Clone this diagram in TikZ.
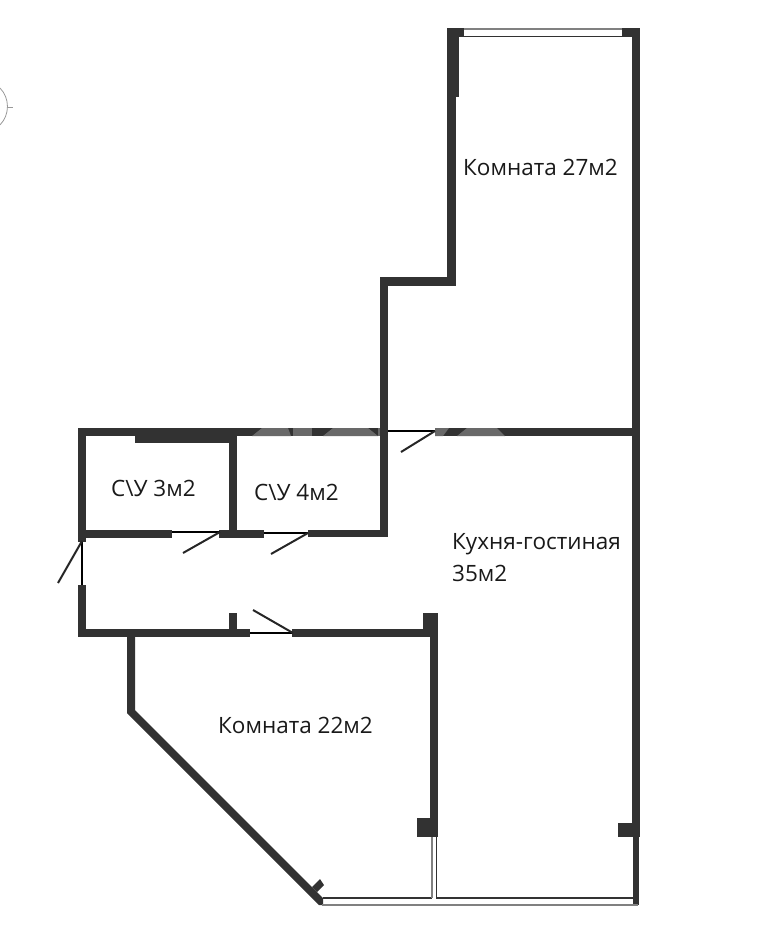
\documentclass[tikz,border=0pt]{standalone}
\usepackage{fontspec}
\setmainfont{Open Sans}
\definecolor{walldark}{RGB}{50,50,50}
\definecolor{wallgrey}{RGB}{105,105,105}
\tikzset{
  wall/.style={fill=walldark, draw=none},
  fadedwall/.style={fill=wallgrey, draw=none},
  glass/.style={draw=walldark, line width=1.4pt},
  glasspale/.style={draw=gray, line width=1.4pt},
  doorline/.style={draw=black, line width=1.6pt},
  leaf/.style={draw=black!85, line width=2pt},
  roomlabel/.style={font=\fontsize{22.5}{27}\selectfont, text=black!90, inner sep=0pt, anchor=base west}
}
\begin{document}
\begin{tikzpicture}[x=1pt,y=-1pt]
\useasboundingbox (0,0) rectangle (757,927);

% straight walls, left/top/right/bottom
\foreach \xa/\ya/\xb/\yb in {
  78/428/380/436, 135/436/232/443, 78/428/86/542, 229/436/237/530,
  78/530/172/538, 219/530/264/538, 308/530/388/537,
  78/585/86/637, 78/629/250/637, 229/613/237/629, 292/629/438/637,
  423/613/438/629, 430/637/438/837, 417/818/430/837,
  380/277/388/530, 380/277/456/286, 447/28/456/286, 447/28/459/97,
  447/28/464/37, 622/28/640/37, 632/37/640/828, 435/428/632/436, 380/428/388/436,
  618/823/640/837, 633/837/639/905}
  \fill[wall] (\xa,\ya) rectangle (\xb,\yb);

% washed out parts of the middle wall
\fill[fadedwall] (252,436) -- (262,428) -- (288,428) -- (291,436) -- cycle;
\fill[fadedwall] (293,428) rectangle (312,436);
\fill[fadedwall] (323,436) -- (333,428) -- (368,428) -- (378,436) -- cycle;
\fill[fadedwall] (380,428) rectangle (378,436);
\fill[fadedwall] (435,428) -- (449,428) -- (443,436) -- (435,436) -- cycle;
\fill[fadedwall] (457,436) -- (467,428) -- (497,428) -- (505,436) -- cycle;

% outer wall of the cut corner
\fill[wall] (127,637) -- (135,637) -- (135,710) -- (323,898) -- (323,905) -- (319,905) -- (127,713) -- cycle;
\fill[wall] (320,879) -- (324,885) -- (317,892) -- (312,887) -- cycle;

% windows
\draw[glass] (459,36.5) -- (632,36.5);
\draw[glasspale] (464,29) -- (622,29);
\draw[glass] (323,898) -- (432,898);
\draw[glass] (436,898) -- (633,898);
\draw[glasspale] (322,905) -- (638,905);
\draw[glass] (436.5,837) -- (436.5,898);
\draw[glasspale] (432,837) -- (432,898);

% doors
\draw[doorline] (172,532) -- (220,532);
\draw[leaf] (220,532) -- (183,553);
\draw[doorline] (264,533) -- (308,533);
\draw[leaf] (308,533) -- (271,554);
\draw[doorline] (82,542) -- (82,585);
\draw[leaf] (82,541) -- (58,583);
\draw[doorline] (250,633) -- (292,633);
\draw[leaf] (293,633) -- (253,610);
\draw[doorline] (388,431) -- (435,431);
\draw[leaf] (435,431) -- (401,452);

% compass rest at the edge
\draw[gray!80, line width=0.8pt] (0,88) arc[start angle=44, end angle=-44, radius=26.6pt];
\draw[gray!80, line width=0.8pt] (7,107) -- (13,107);

\node[roomlabel] at (463,175) (bigroom){Комната 27м2};
\node[roomlabel] at (452,549) (kitchen){Кухня-гостиная};
\node[roomlabel] at (452,581) (kitchenarea){35м2};
\node[roomlabel] at (218,733) (room){Комната 22м2};
\node[roomlabel] at (111,496) (bathsmall){С\textbackslash У 3м2};
\node[roomlabel] at (254,500) (bathbig){С\textbackslash У 4м2};

\end{tikzpicture}
\end{document}
